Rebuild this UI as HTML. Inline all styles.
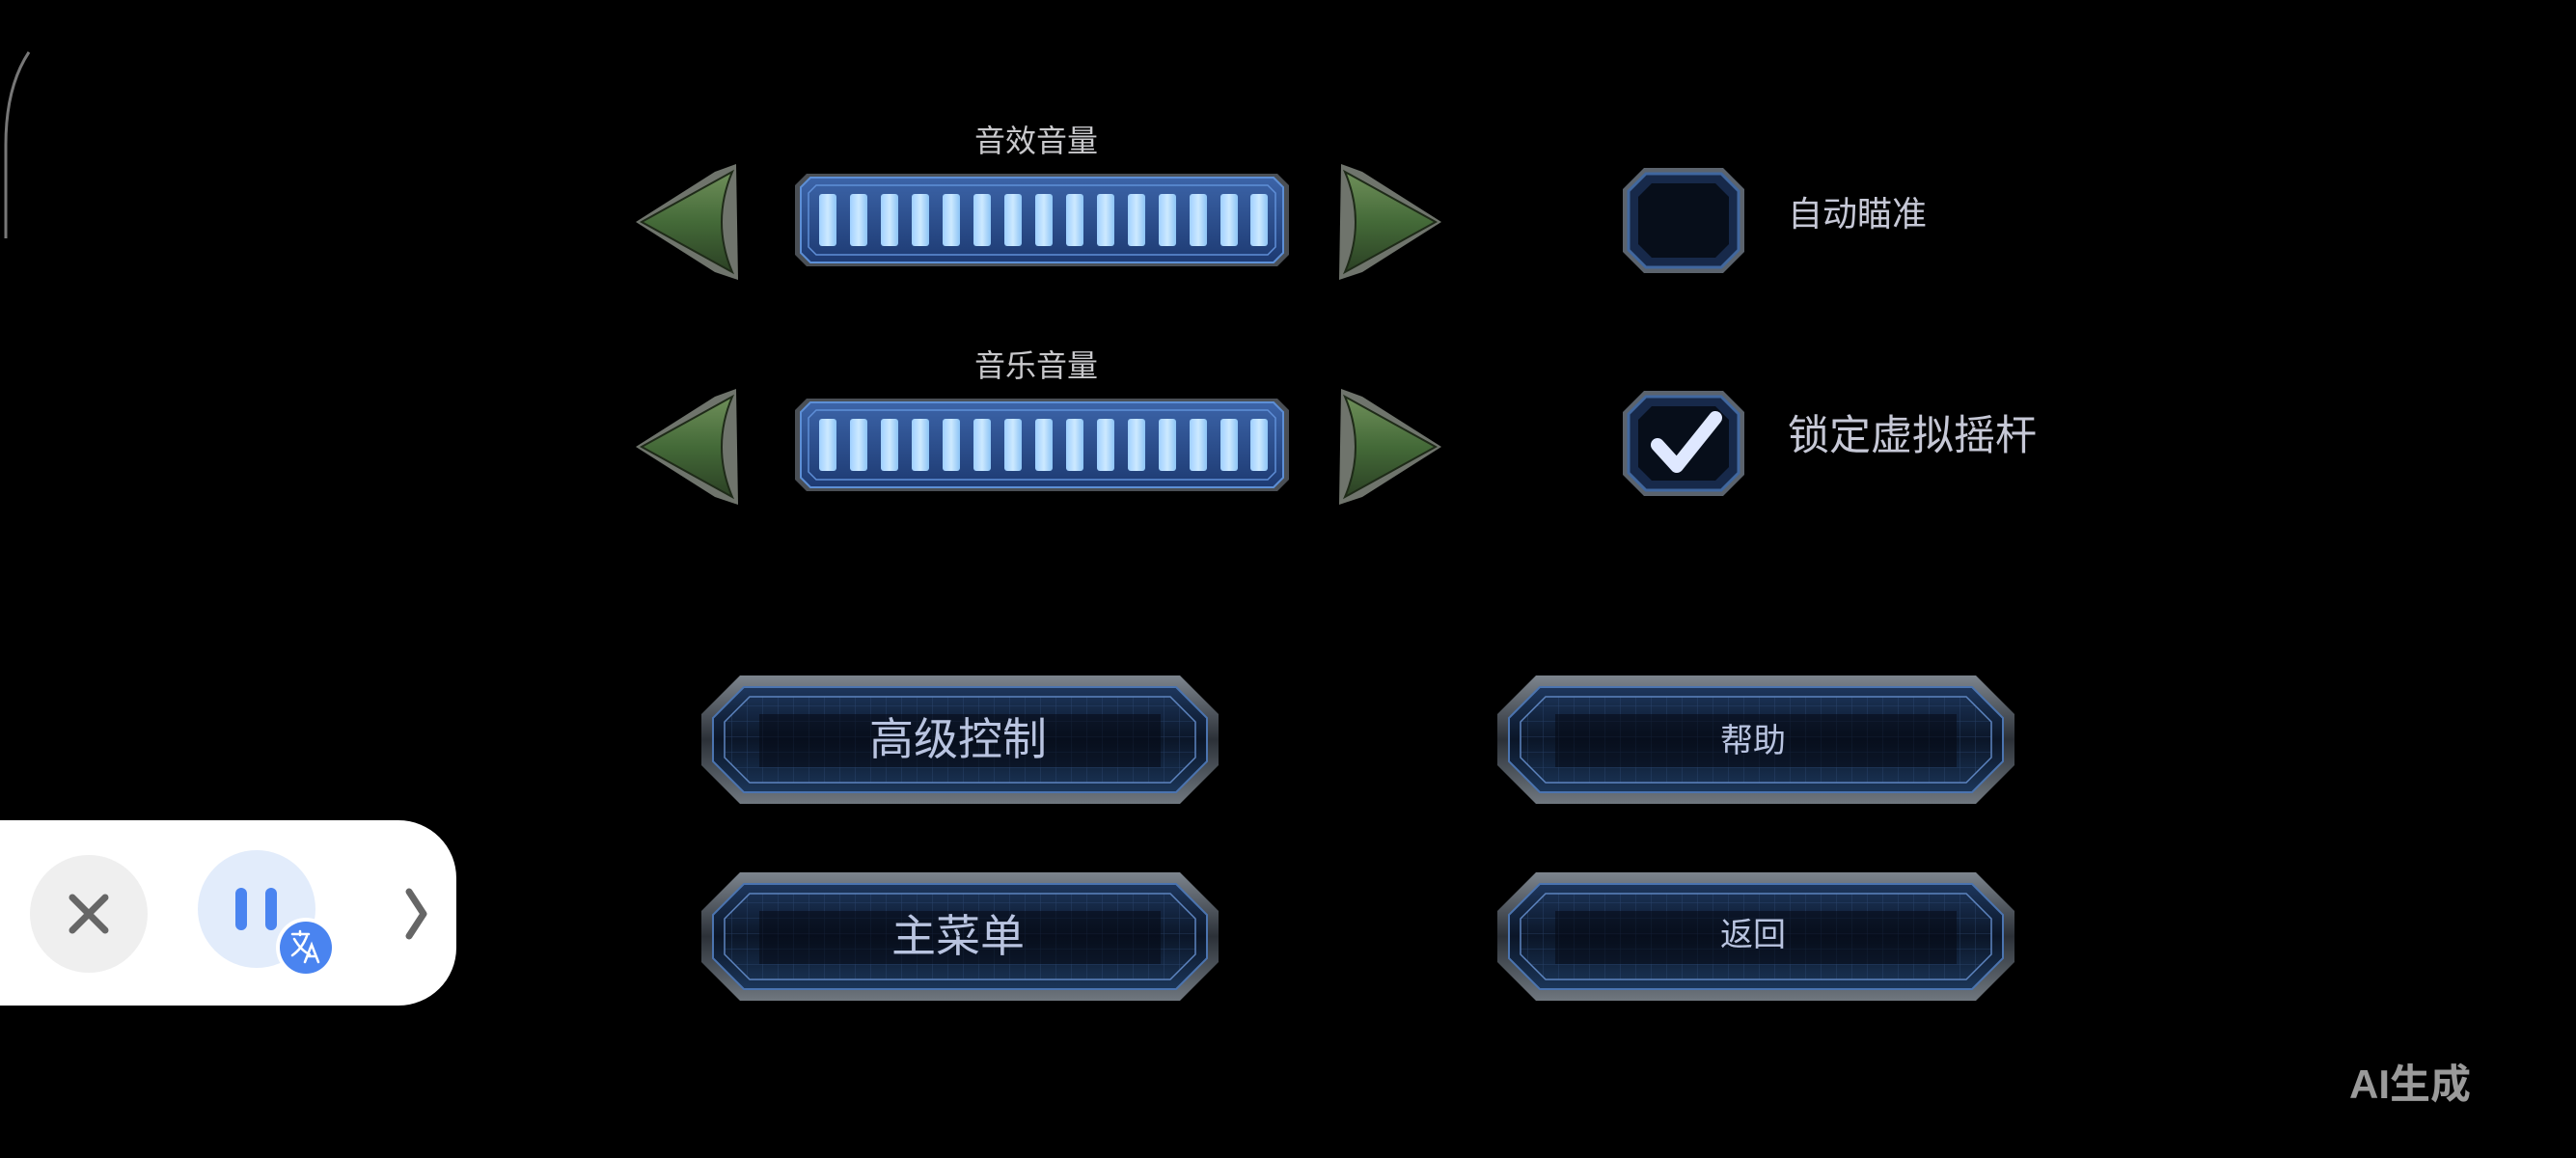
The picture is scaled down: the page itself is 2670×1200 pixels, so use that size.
<!DOCTYPE html>
<html><head><meta charset="utf-8"><style>
html,body{margin:0;padding:0;background:#000;width:2670px;height:1200px;overflow:hidden}
svg{display:block}
text{font-family:"Liberation Sans","Noto Sans CJK SC",sans-serif}
</style></head><body>
<svg width="2670" height="1200" viewBox="0 0 2670 1200" xmlns="http://www.w3.org/2000/svg">
<defs>
<linearGradient id="green" x1="0" y1="0" x2="0" y2="1"><stop offset="0" stop-color="#6f8f5a"/><stop offset="0.5" stop-color="#446a38"/><stop offset="1" stop-color="#2b4024"/></linearGradient>
<linearGradient id="bar" x1="0" y1="0" x2="0" y2="1"><stop offset="0" stop-color="#3c64a8"/><stop offset="1" stop-color="#1d3a72"/></linearGradient>
<linearGradient id="seg" x1="0" y1="0" x2="1" y2="0"><stop offset="0" stop-color="#9fd0ff"/><stop offset="0.5" stop-color="#cde9ff"/><stop offset="1" stop-color="#8cc4f5"/></linearGradient>
<linearGradient id="btn" x1="0" y1="0" x2="0" y2="1"><stop offset="0" stop-color="#1d365c"/><stop offset="0.5" stop-color="#0b1628"/><stop offset="1" stop-color="#1b3558"/></linearGradient>
<linearGradient id="frame" x1="0" y1="0" x2="0" y2="1"><stop offset="0" stop-color="#7d858e"/><stop offset="0.5" stop-color="#2c3138"/><stop offset="1" stop-color="#6f777f"/></linearGradient>
<pattern id="grid" width="16" height="16" patternUnits="userSpaceOnUse"><path d="M16 0V16M0 16H16" stroke="#3a5a8a" stroke-width="1" fill="none" opacity="0.5"/></pattern>
<g id="slider">
 <path d="M12 0H500L512 12V84L500 96H12L0 84V12Z" fill="#4a4f55"/>
 <path d="M16 4H496L506 14V82L496 92H16L6 82V14Z" fill="url(#bar)" stroke="#5d8fd6" stroke-width="2"/>
 <path d="M22 12H490L498 20V76L490 84H22L14 76V20Z" fill="none" stroke="#5f8fd8" stroke-width="1.5"/>
</g>
<g id="segs">
 <rect x="0" y="0" width="18" height="54" rx="3" fill="url(#seg)"/>
</g>
<g id="larrow">
 <path d="M104 0L106 120L82 112L0 60L82 8Z" fill="#6f746c"/>
 <path d="M100 8Q78 60 100 112L6 60Z" fill="url(#green)" stroke="#1e2a18" stroke-width="2"/>
</g>
<g id="checkbox">
 <path d="M22 0H104L126 22V87L104 109H22L0 87V22Z" fill="#5b636d"/>
 <path d="M24 6H102L120 24V85L102 103H24L6 85V24Z" fill="#17294a" stroke="#40679f" stroke-width="3"/>
 <path d="M30 16H96L110 30V79L96 93H30L16 79V30Z" fill="#070e1a"/>
</g>
<g id="button">
 <path d="M40 0H496L536 40V93L496 133H40L0 93V40Z" fill="url(#frame)"/>
 <path d="M44 12H492L524 44V89L492 121H44L12 89V44Z" fill="url(#btn)" stroke="#4b74b0" stroke-width="2"/>
 <path d="M50 22H486L512 48V85L486 111H50L24 85V48Z" fill="url(#grid)" stroke="#5d84bf" stroke-width="1.5"/>
 <rect x="60" y="40" width="416" height="55" fill="#050a14" opacity="0.55"/>
</g>
</defs>

<path d="M30 54Q6 90 6 150V247" stroke="#777" stroke-width="3" fill="none"/>

<text x="1074" y="157" font-size="32" fill="#c9c9cc" text-anchor="middle">音效音量</text>
<text x="1074" y="390" font-size="32" fill="#c9c9cc" text-anchor="middle">音乐音量</text>

<use href="#larrow" x="659" y="170"/>
<use href="#larrow" x="659" y="403"/>
<use href="#larrow" transform="translate(1494 170) scale(-1 1)"/>
<use href="#larrow" transform="translate(1494 403) scale(-1 1)"/>

<use href="#slider" x="824" y="180"/>
<use href="#slider" x="824" y="413"/>
<g id="row1">
<use href="#segs" x="849" y="201"/><use href="#segs" x="881" y="201"/><use href="#segs" x="913" y="201"/><use href="#segs" x="945" y="201"/><use href="#segs" x="977" y="201"/><use href="#segs" x="1009" y="201"/><use href="#segs" x="1041" y="201"/><use href="#segs" x="1073" y="201"/><use href="#segs" x="1105" y="201"/><use href="#segs" x="1137" y="201"/><use href="#segs" x="1169" y="201"/><use href="#segs" x="1201" y="201"/><use href="#segs" x="1233" y="201"/><use href="#segs" x="1265" y="201"/><use href="#segs" x="1296" y="201"/>
</g>
<use href="#row1" y="233"/>

<use href="#checkbox" x="1682" y="174"/>
<use href="#checkbox" x="1682" y="405"/>
<path d="M1718 461L1738 483L1778 433" stroke="#dfe8ff" stroke-width="14" fill="none" stroke-linecap="round" stroke-linejoin="round"/>
<text x="1853" y="234" font-size="36" fill="#c6c8d6">自动瞄准</text>
<text x="1853" y="466" font-size="43" fill="#c6c8d6">锁定虚拟摇杆</text>

<use href="#button" x="727" y="700"/>
<use href="#button" x="1552" y="700"/>
<use href="#button" x="727" y="904"/>
<use href="#button" x="1552" y="904"/>
<text x="993" y="782" font-size="46" fill="#b9c4e0" text-anchor="middle">高级控制</text>
<text x="1817" y="779" font-size="34" fill="#b9c4e0" text-anchor="middle">帮助</text>
<text x="993" y="986" font-size="46" fill="#b9c4e0" text-anchor="middle">主菜单</text>
<text x="1817" y="980" font-size="34" fill="#b9c4e0" text-anchor="middle">返回</text>

<text x="2435" y="1138" font-size="42" font-weight="bold" fill="#9a9a9a">AI生成</text>

<path d="M0 850H413A60 60 0 0 1 473 910V982A60 60 0 0 1 413 1042H0Z" fill="#fff"/>
<circle cx="92" cy="947" r="61" fill="#efefef"/>
<path d="M75 930L109 964M109 930L75 964" stroke="#666" stroke-width="7" stroke-linecap="round"/>
<circle cx="266" cy="942" r="61" fill="#e2ecfb"/>
<rect x="244" y="920" width="12" height="44" rx="6" fill="#4a84f0"/>
<rect x="275" y="920" width="12" height="44" rx="6" fill="#4a84f0"/>
<circle cx="317" cy="982" r="31" fill="#fff"/>
<circle cx="317" cy="982" r="27" fill="#4a84f0"/>
<path d="M303 968H320M311 965V969M305 973Q312 985 321 989M318 970Q313 983 303 990M316 997L323 979L330 997M319 991H327" stroke="#fff" stroke-width="2.5" fill="none" stroke-linecap="round"/>
<path d="M424 924L439 947L424 970" stroke="#666" stroke-width="7" fill="none" stroke-linecap="round" stroke-linejoin="round"/>
</svg>
</body></html>
